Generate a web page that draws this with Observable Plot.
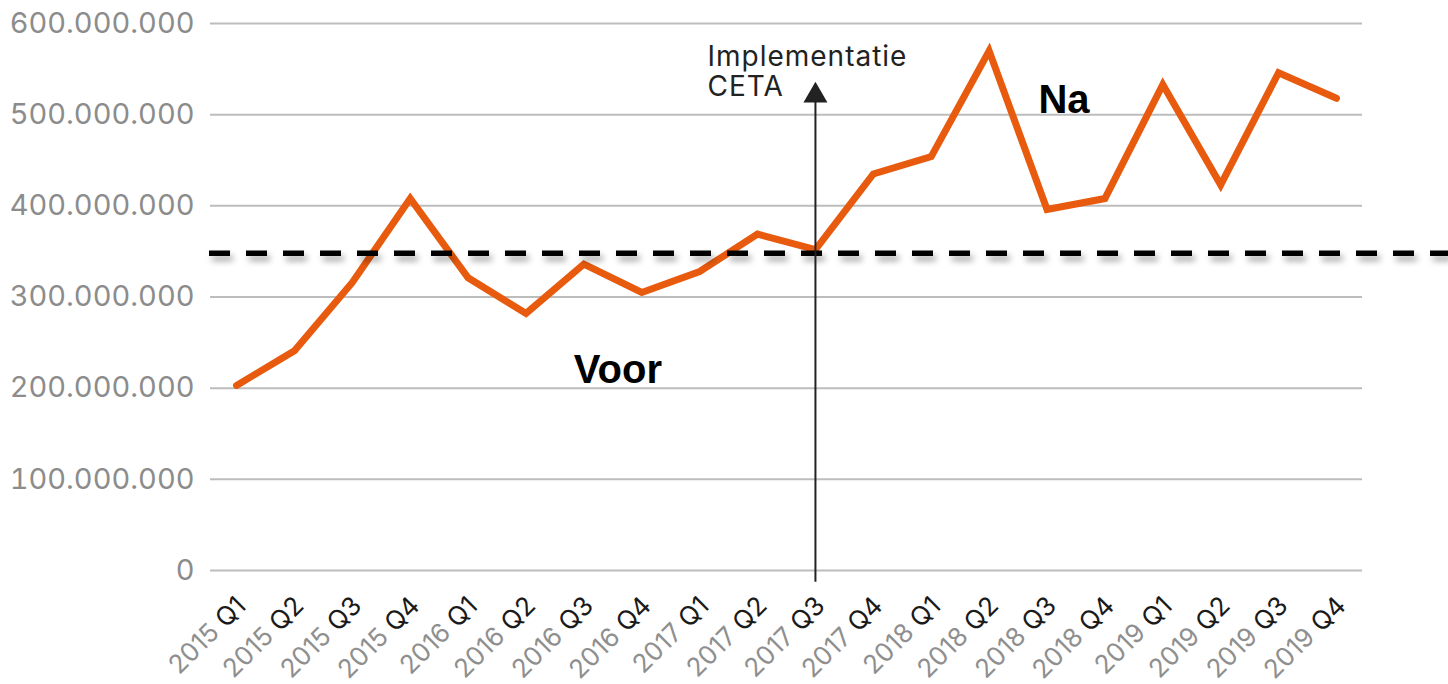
<!DOCTYPE html>
<html>
<head>
<meta charset="utf-8">
<script src="https://cdn.jsdelivr.net/npm/d3@7"></script>
<script src="https://cdn.jsdelivr.net/npm/@observablehq/plot@0.6"></script>
<style>
  html, body { margin: 0; padding: 0; background: #ffffff; }
  #chart svg { display: block; }
</style>
</head>
<body>
<div id="chart"></div>
<script>
// ---- data ----
const quarters = ["2015 Q1","2015 Q2","2015 Q3","2015 Q4","2016 Q1","2016 Q2","2016 Q3","2016 Q4",
  "2017 Q1","2017 Q2","2017 Q3","2017 Q4","2018 Q1","2018 Q2","2018 Q3","2018 Q4",
  "2019 Q1","2019 Q2","2019 Q3","2019 Q4"];
const values = [203e6, 241e6, 316e6, 408e6, 321e6, 282e6, 336e6, 305e6,
  328e6, 369e6, 352e6, 435e6, 454e6, 570e6, 396e6, 408e6,
  533e6, 423e6, 546e6, 518e6];
const yTicks = [0, 100e6, 200e6, 300e6, 400e6, 500e6, 600e6];
const referenceLevel = 348e6;
const ceta = {quarter: "2017 Q3", from: -13e6, to: 521e6, label: "Implementatie\nCETA", labelValue: 521e6};
const voorLabel = {label: "Voor", quarter: "2016 Q3", value: 206e6};
const naLabel = {label: "Na", quarter: "2018 Q3", value: 502e6};

const rows = quarters.map((q, i) => ({q, v: values[i]}));
const nl = d3.formatLocale({decimal: ",", thousands: ".", grouping: [3], currency: ["€", ""]});
const fmt = nl.format(",d");

const boldFont = "'Liberation Sans', Arial, sans-serif";

const plot = Plot.plot({
  width: 1448,
  height: 684,
  marginLeft: 210,
  marginRight: 86,
  marginTop: 23,
  marginBottom: 114,
  style: {fontFamily: "Inter, 'Noto Sans', sans-serif", background: "#ffffff"},
  x: {type: "point", domain: quarters, padding: 0.45, round: false, axis: null},
  y: {domain: [0, 600e6], axis: null},
  marks: [
    Plot.gridY(yTicks, {stroke: "#bdbdbd", strokeOpacity: 1, strokeWidth: 2}),
    Plot.axisY(yTicks, {tickSize: 0, tickPadding: 16, tickFormat: fmt, fontSize: 29, color: "#8c8c8c", label: null}),
    Plot.line(rows, {x: "q", y: "v", stroke: "#E85B0E", strokeWidth: 7, strokeLinejoin: "miter", strokeMiterlimit: 6}),
    Plot.ruleY([referenceLevel], {stroke: "#000", strokeWidth: 5.5, strokeDasharray: "21,16", insetLeft: -1, insetRight: -86}),
    Plot.ruleX([ceta], {x: "quarter", y1: "from", y2: "to", stroke: "#222", strokeWidth: 2}),
    Plot.dot([ceta], {x: "quarter", y: "to", symbol: "triangle", r: 8.9, fill: "#222", stroke: null}),
    Plot.text([ceta], {x: "quarter", y: "labelValue", text: "label", textAnchor: "start", lineAnchor: "bottom", lineHeight: 1.05, dx: -108, fontSize: 28, fill: "#222"}),
    Plot.text([voorLabel], {x: "quarter", y: "value", text: "label", textAnchor: "middle", lineAnchor: "bottom", dx: 34, fontSize: 40, fontWeight: "bold", fontFamily: boldFont, fill: "#000"}),
    Plot.text([naLabel], {x: "quarter", y: "value", text: "label", textAnchor: "middle", lineAnchor: "bottom", dx: 17, fontSize: 40, fontWeight: "bold", fontFamily: boldFont, fill: "#000"}),
    Plot.text(quarters, {x: (d) => d, y: () => 0, text: (d) => d, rotate: -45, textAnchor: "end", lineAnchor: "middle", dx: 5, dy: 31, fontSize: 26, fill: "#8f8f8f"})
  ]
});

const svg = plot;
// shadow on the reference dashed line
svg.querySelectorAll('g[aria-label="rule"][stroke-dasharray]').forEach(g => {
  g.style.filter = "drop-shadow(3px 5px 3px rgba(0,0,0,0.35))";
});
// slightly wider annotation lettering
svg.querySelectorAll('g[aria-label="text"][font-size="28"]').forEach(g => {
  g.style.letterSpacing = "1px";
});
// two-colour tick labels: year grey, quarter black
svg.querySelectorAll('g[aria-label="text"][font-size="26"] text').forEach(t => {
  const [year, qt] = t.textContent.split(" ");
  t.textContent = "";
  const a = document.createElementNS("http://www.w3.org/2000/svg", "tspan");
  a.textContent = year + " ";
  a.setAttribute("fill", "#8f8f8f");
  const b = document.createElementNS("http://www.w3.org/2000/svg", "tspan");
  b.textContent = qt;
  b.setAttribute("fill", "#1a1a1a");
  t.appendChild(a); t.appendChild(b);
});
document.getElementById("chart").appendChild(plot);
</script>
</body>
</html>
